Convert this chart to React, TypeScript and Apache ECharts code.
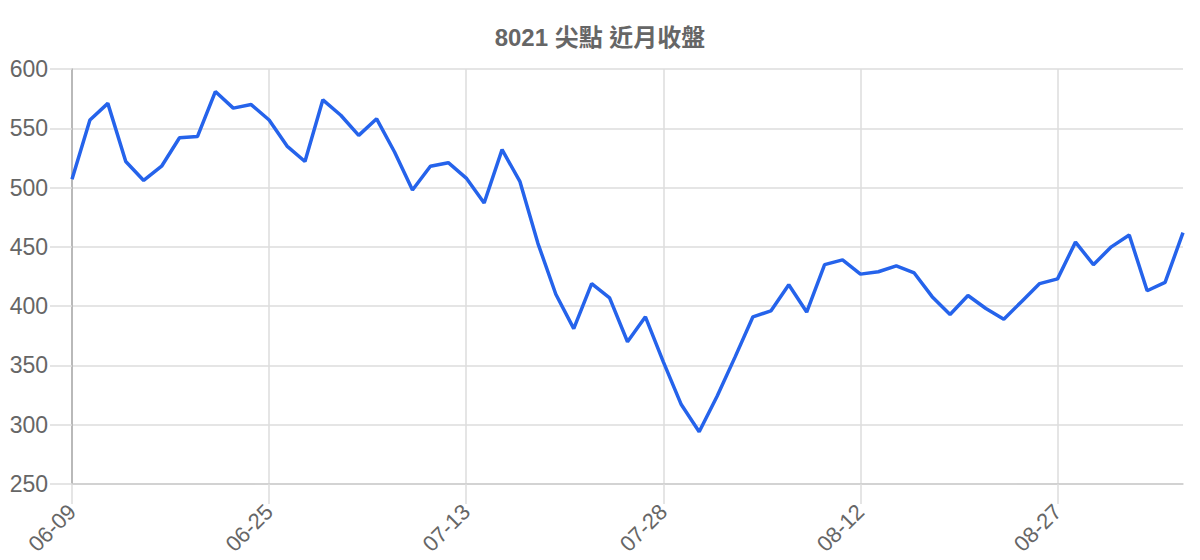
import React, { useEffect, useRef } from 'react';
import * as echarts from 'echarts';

const title = '8021 尖點 近月收盤';

const dates = [
  '06-09', '06-10', '06-11', '06-15', '06-16', '06-17', '06-18', '06-21', '06-22', '06-23',
  '06-24', '06-25', '06-28', '06-29', '06-30', '07-01', '07-02', '07-05', '07-06', '07-07',
  '07-08', '07-12', '07-13', '07-14', '07-15', '07-16', '07-19', '07-20', '07-21', '07-22',
  '07-23', '07-26', '07-27', '07-28', '07-29', '07-30', '08-02', '08-03', '08-04', '08-05',
  '08-06', '08-09', '08-10', '08-11', '08-12', '08-13', '08-16', '08-17', '08-18', '08-19',
  '08-20', '08-23', '08-24', '08-25', '08-26', '08-27', '08-30', '08-31', '09-01', '09-02',
  '09-03', '09-06', '09-07',
];

const closes = [
  507, 557, 571, 522, 506, 518, 542, 543, 581, 567,
  570, 557, 535, 522, 574, 561, 544, 558, 530, 498,
  518, 521, 508, 487, 532, 505, 453, 410, 381, 419,
  407, 370, 391, 353, 317, 294, 324, 357, 391, 396,
  418, 395, 435, 439, 427, 429, 434, 428, 408, 393,
  409, 398, 389, 404, 419, 423, 454, 435, 450, 460,
  413, 420, 462,
];

const yTicks = [250, 300, 350, 400, 450, 500, 550, 600];

const App: React.FC = () => {
  const chartRef = useRef<HTMLDivElement>(null);

  useEffect(() => {
    if (!chartRef.current) return;
    const myChart = echarts.init(chartRef.current, undefined, { renderer: 'svg' });

    const option: echarts.EChartsOption = {
      animation: false,
      backgroundColor: '#fff',
      title: {
        text: title,
        left: 'center',
        top: 20,
        textStyle: {
          color: '#666',
          fontSize: 24,
          fontWeight: 'bold',
          fontFamily: 'Liberation Sans, Noto Sans CJK TC, sans-serif',
        },
      },
      grid: { left: 72, right: 17, top: 69, bottom: 76 },
      xAxis: {
        type: 'category',
        data: dates,
        boundaryGap: false,
        axisLine: { lineStyle: { color: '#ccc', width: 1.5 } },
        axisTick: { show: true, length: 20, interval: 10, lineStyle: { color: '#ddd', width: 1.5 } },
        axisLabel: {
          interval: 10,
          rotate: 45,
          margin: 24,
          color: '#666',
          fontSize: 22,
          fontFamily: 'Liberation Sans, sans-serif',
        },
        splitLine: { show: true, interval: 10, lineStyle: { color: '#ddd', width: 1.5 } },
      },
      yAxis: {
        type: 'value',
        min: yTicks[0],
        max: yTicks[yTicks.length - 1],
        interval: 50,
        axisLine: { show: true, lineStyle: { color: '#aaa', width: 1.5 } },
        axisTick: { show: true, length: 22, lineStyle: { color: '#ddd', width: 1.5 } },
        axisLabel: {
          margin: 24,
          color: '#666',
          fontSize: 23,
          fontFamily: 'Liberation Sans, sans-serif',
        },
        splitLine: { lineStyle: { color: '#ddd', width: 1.5 } },
      },
      series: [
        {
          name: '收盤',
          type: 'line',
          data: closes,
          showSymbol: false,
          lineStyle: { color: '#2563eb', width: 3.5 },
          itemStyle: { color: '#2563eb' },
        },
      ],
    };

    myChart.setOption(option);
    return () => {
      myChart.dispose();
    };
  }, []);

  return (
    <div
      ref={chartRef}
      style={{ position: 'fixed', left: 0, top: 0, width: '1200px', height: '560px' }}
    />
  );
};

export default App;
